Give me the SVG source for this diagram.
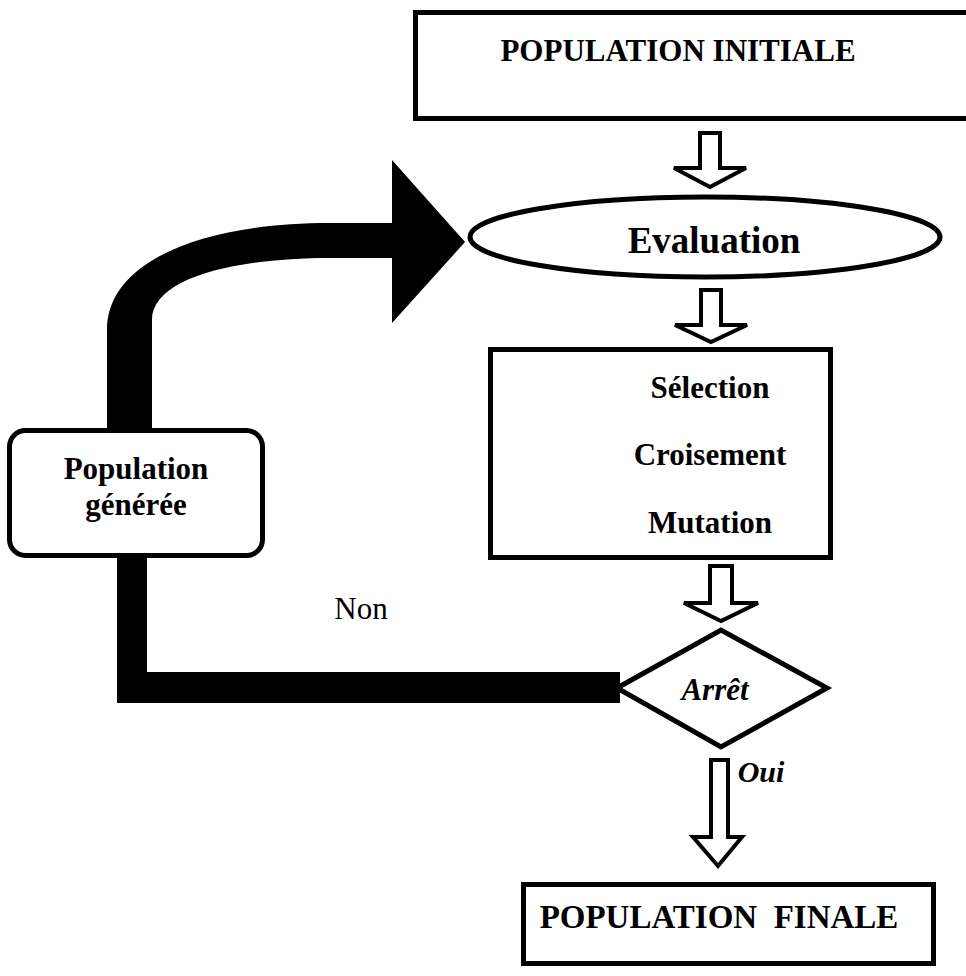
<svg xmlns="http://www.w3.org/2000/svg" width="966" height="976" viewBox="0 0 966 976">
<style>
  .box { fill: #fff; stroke: #000; stroke-width: 5; }
  .harrow { fill: #fff; stroke: #000; stroke-width: 4; stroke-linejoin: miter; }
  .t { font-family: "Liberation Serif", "Times New Roman", serif; font-weight: bold; fill: #000; text-anchor: middle; }
  .it { font-style: italic; }
  .n { font-family: "Liberation Serif", "Times New Roman", serif; fill: #000; text-anchor: middle; }
</style>
<rect x="0" y="0" width="966" height="976" fill="#fff"/>
<g id="connectors">
  <path id="loop-arrow" fill="#000" d="M107,440 V330 C107,262 200,223 330,223 H392 V160 L465,242 L392,323 V258 H330 C235,258 152,278 152,320 V440 Z"/>
  <path id="non-line" fill="#000" d="M117,550 H147 V672 H620 V703 H117 Z"/>
  <path id="a1" class="harrow" d="M700,133 H720 V168 H746 L710,187 L674,168 H700 Z"/>
  <path id="a2" class="harrow" d="M701,290 H721 V325 H747 L711,342 L675,325 H701 Z"/>
  <path id="a3" class="harrow" d="M710,566 H732 V603 H758 L721,621 L684,603 H710 Z"/>
  <path id="a4" class="harrow" d="M711,760 H728 V837 H742 L718,866 L693,837 H711 Z"/>
</g>
<g id="pop-initiale">
  <rect class="box" x="415.5" y="12.5" width="560" height="106"/>
  <text class="t" x="678" y="61" font-size="31">POPULATION INITIALE</text>
</g>
<g id="evaluation">
  <ellipse class="box" cx="705" cy="237" rx="235" ry="40"/>
  <text class="t" x="714" y="253" font-size="37">Evaluation</text>
</g>
<g id="operateurs">
  <rect class="box" x="490.5" y="349.5" width="340" height="208"/>
  <text class="t" x="710" y="398" font-size="31">Sélection</text>
  <text class="t" x="710" y="465" font-size="31">Croisement</text>
  <text class="t" x="710" y="533" font-size="31">Mutation</text>
</g>
<g id="arret">
  <polygon class="box" points="617,688 721,630 827,688 721,747"/>
  <text class="t it" x="715" y="700" font-size="31">Arrêt</text>
</g>
<g id="pop-generee">
  <rect class="box" x="9.5" y="430.5" width="253" height="125" rx="16"/>
  <text class="t" x="136" y="479" font-size="31">Population</text>
  <text class="t" x="136" y="515" font-size="31">générée</text>
</g>
<g id="pop-finale">
  <rect class="box" x="523.5" y="884.5" width="410" height="79"/>
  <text class="t" x="719" y="928" font-size="33" style="white-space:pre">POPULATION  FINALE</text>
</g>
<g id="labels">
  <text class="n" x="361" y="619" font-size="31">Non</text>
  <text class="t it" x="761" y="782" font-size="30">Oui</text>
</g>
</svg>
